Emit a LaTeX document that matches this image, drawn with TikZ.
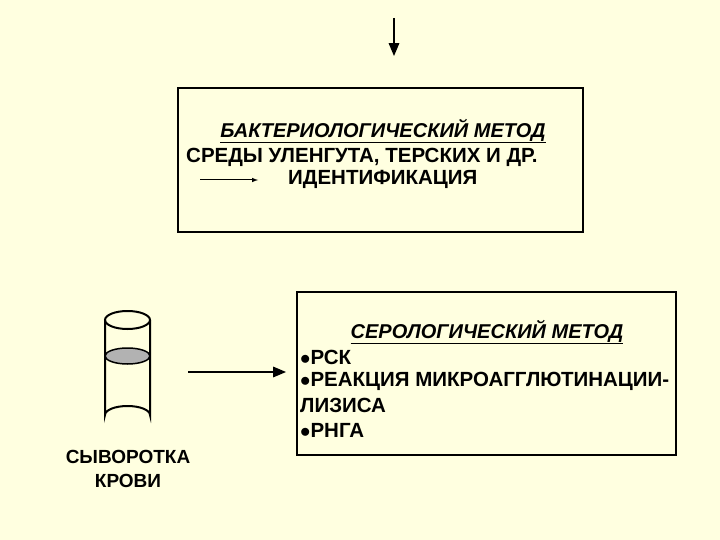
\documentclass[tikz,border=0pt]{standalone}
\usepackage{fontspec}
\setmainfont{Liberation Sans}
\usetikzlibrary{positioning,arrows}
\definecolor{paper}{HTML}{FFFFE0}
\tikzset{
  box/.style   = {draw, line width=1.6pt, inner sep=0pt},
  txt/.style   = {font=\fontsize{20.5}{24}\selectfont\bfseries, inner sep=0pt, anchor=west},
  head/.style  = {font=\fontsize{20}{24}\selectfont\bfseries\itshape, inner sep=0pt},
  post/.style  = {-triangle 45, line width=2pt},
  thin post/.style = {-latex, line width=1pt}
}
\newcommand{\ul}[1]{\underline{#1}}
\begin{document}
\begin{tikzpicture}[x=1pt,y=-1pt]
  \fill[paper] (0,0) rectangle (720,540);
  \useasboundingbox (0,0) rectangle (720,540);
  % top arrow
  \coordinate (in) at (394,18);
  \coordinate (inend) at (394,56);
  \draw[post] (in) -- (inend);
  % bacteriological box
  \draw[box] (178,88) rectangle (583,232);
  \node[head] (bhead) at (383,131) {\ul{БАКТЕРИОЛОГИЧЕСКИЙ МЕТОД}};
  \node[txt] (media) at (186,157) {СРЕДЫ УЛЕНГУТА,  ТЕРСКИХ И ДР.};
  \node[txt] (ident) at (288,179) {ИДЕНТИФИКАЦИЯ};
  \coordinate (a1) at (200,180);
  \coordinate (a1end) at (258,180);
  \draw[thin post] (a1) -- (a1end);
  % serological box
  \draw[box] (297,292) rectangle (676,455);
  \node[head] (shead) at (487,332) {\ul{СЕРОЛОГИЧЕСКИЙ МЕТОД}};
  \node[txt] (s1) at (300,357) {$\bullet$РСК};
  \node[txt] (s2) at (300,381) {$\bullet$РЕАКЦИЯ МИКРОАГГЛЮТИНАЦИИ-};
  \node[txt] (s3) at (300,405) {ЛИЗИСА};
  \node[txt] (s4) at (300,430) {$\bullet$РНГА};
  % tube
  \fill[paper] (105,320) -- (105,415) arc[start angle=180,end angle=360,x radius=22.5,y radius=9] -- (150,320) -- cycle;
  \draw[line width=2pt] (105,320) -- (105,415) arc[start angle=180,end angle=360,x radius=22.5,y radius=9] -- (150,320);
  \draw[line width=2pt] (127.5,320) ellipse[x radius=22.5,y radius=9];
  \draw[line width=1.5pt, fill=gray!60] (127.5,356) ellipse[x radius=22.5,y radius=8];
  \node[font=\fontsize{19}{24}\selectfont\bfseries, align=center] (serum) at (128,469) {СЫВОРОТКА\\КРОВИ};
  \coordinate (tube) at (188,372);
  \coordinate (tubeend) at (286,372);
  \draw[post] (tube) -- (tubeend);
\end{tikzpicture}
\end{document}
